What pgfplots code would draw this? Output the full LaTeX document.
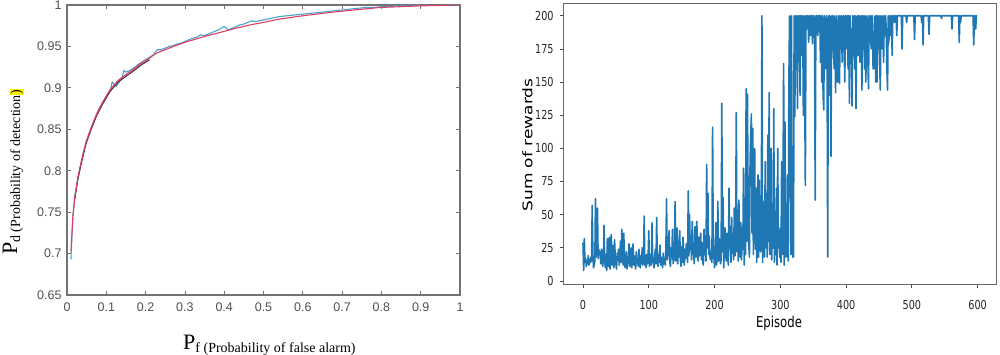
\documentclass[border=0pt]{standalone}
\usepackage{pgfplots}
\pgfplotsset{compat=1.18}
\usepackage{fontspec}
\usepackage{graphicx}
\setmainfont{Liberation Serif}
\newfontfamily\lsans{Liberation Sans}
\newfontfamily\mpl[FakeStretch=0.78]{DejaVu Sans}
\newfontfamily\mplv{DejaVu Sans}
\definecolor{mgray}{RGB}{115,115,115}
\definecolor{mtick}{RGB}{80,80,80}
\definecolor{cblue}{RGB}{75,160,205}
\definecolor{cred}{RGB}{222,62,95}
\definecolor{cdark}{RGB}{75,45,65}
\definecolor{mplblue}{RGB}{31,119,180}
\newcommand{\hlbox}[1]{{\setlength{\fboxsep}{0.6pt}\colorbox{yellow}{#1}}}
\begin{document}
\begin{tikzpicture}[x=1pt,y=1pt]
\useasboundingbox (0,0) rectangle (1000,354);
% ---------------- left panel ----------------
\begin{axis}[
  at={(67pt,59pt)}, anchor=south west,
  scale only axis, width=393pt, height=290pt,
  xmin=0, xmax=1, ymin=0.65, ymax=1,
  xtick={0,0.1,0.2,0.3,0.4,0.5,0.6,0.7,0.8,0.9,1},
  xticklabels={0,0.1,0.2,0.3,0.4,0.5,0.6,0.7,0.8,0.9,1},
  ytick={0.65,0.7,0.75,0.8,0.85,0.9,0.95,1},
  yticklabels={0.65,0.7,0.75,0.8,0.85,0.9,0.95,1},
  tick align=inside, tick pos=both, major tick length=4pt,
  axis line style={mgray, line width=1.2pt},
  every tick/.style={mgray, line width=0.8pt},
  /pgf/number format/assume math mode=true,
  tick label style={font=\lsans\fontsize{12.5}{14}\selectfont, text=mtick},
  xticklabel style={anchor=center, yshift=-11.7pt},
  yticklabel style={anchor=east, inner sep=0pt, xshift=-5.3pt},
  xlabel={{\fontsize{22}{24}\selectfont P}{\fontsize{14}{16}\selectfont\raisebox{-3pt}{f (Probability of false alarm)}}},
  xlabel style={at={(axis description cs:0.2952,-0.1862)}, anchor=base west, inner sep=0pt},
  ylabel={{\fontsize{22}{24}\selectfont P}{\fontsize{14}{16}\selectfont\raisebox{-3pt}{d (Probability of detection\hlbox{)}}}},
  ylabel style={at={(axis description cs:-0.1272,0.138)}, rotate=0, anchor=base west, inner sep=0pt},
]
\addplot[cblue, line width=1.1pt] coordinates {
(0.010,0.693)(0.015,0.745)(0.02,0.770)(0.03,0.797)(0.04,0.819)(0.05,0.836)
(0.06,0.850)(0.07,0.862)(0.08,0.873)(0.09,0.882)(0.10,0.890)(0.11,0.897)
(0.115,0.907)(0.12,0.904)(0.125,0.902)(0.13,0.905)(0.14,0.912)(0.145,0.921)
(0.15,0.919)(0.16,0.921)(0.17,0.924)(0.18,0.928)(0.19,0.931)(0.20,0.934)
(0.21,0.937)(0.22,0.940)(0.23,0.946)(0.24,0.946)(0.25,0.948)(0.26,0.950)
(0.27,0.951)(0.28,0.953)(0.29,0.954)(0.30,0.956)(0.31,0.958)(0.32,0.960)
(0.33,0.961)(0.34,0.964)(0.35,0.963)(0.36,0.965)(0.37,0.967)(0.38,0.969)
(0.39,0.971)(0.40,0.974)(0.41,0.970)(0.42,0.972)(0.43,0.974)(0.44,0.976)
(0.45,0.977)(0.46,0.979)(0.47,0.981)(0.48,0.980)(0.49,0.981)(0.50,0.982)
(0.52,0.984)(0.54,0.986)(0.56,0.987)(0.58,0.988)(0.60,0.989)(0.62,0.990)
(0.64,0.991)(0.66,0.992)(0.68,0.993)(0.70,0.994)(0.72,0.995)(0.74,0.996)
(0.76,0.997)(0.78,0.997)(0.80,0.998)(0.82,0.998)(0.84,0.999)(0.86,0.999)
(0.88,0.999)(0.90,1.000)(0.95,1.000)(1.00,1.000)};
\addplot[cdark, line width=1.1pt] coordinates {
(0.02,0.766)(0.027,0.788)(0.035,0.806)(0.048,0.832)(0.06,0.848)(0.075,0.866)
(0.09,0.880)(0.11,0.896)(0.13,0.907)(0.15,0.914)(0.168,0.920)(0.19,0.928)
(0.21,0.934)};
\addplot[cred, line width=1.1pt] coordinates {
(0.01,0.703)(0.015,0.745)(0.02,0.768)(0.027,0.790)(0.035,0.808)(0.048,0.834)
(0.06,0.850)(0.075,0.868)(0.09,0.882)(0.11,0.898)(0.13,0.909)(0.15,0.916)
(0.168,0.922)(0.19,0.930)(0.21,0.936)(0.228,0.942)(0.26,0.948)(0.30,0.955)
(0.35,0.962)(0.39,0.967)(0.43,0.972)(0.466,0.976)(0.50,0.979)(0.54,0.983)
(0.60,0.987)(0.67,0.991)(0.73,0.994)(0.796,0.997)(0.85,0.998)(0.90,0.999)
(0.95,0.9995)(1.0,1.0)};
\end{axis}
% ---------------- right panel ----------------
\begin{axis}[
  at={(563.3pt,69.5pt)}, anchor=south west,
  scale only axis, width=433.4pt, height=281.5pt,
  xmin=-29.95, xmax=628.95, ymin=-2.65, ymax=209.65,
  xtick={0,100,200,300,400,500,600},
  ytick={0,25,50,75,100,125,150,175,200},
  tick align=outside, tick pos=left, major tick length=3.5pt,
  axis line style={black!60, line width=1pt},
  every tick/.style={black!70, line width=0.8pt},
  /pgf/number format/assume math mode=true,
  tick label style={font=\mpl\fontsize{12.4}{14}\selectfont, text=black!85},
  xticklabel style={anchor=center, yshift=-16.5pt},
  yticklabel style={anchor=east, inner sep=0pt, xshift=-6pt},
  xlabel={{\mpl\fontsize{15}{18}\selectfont Episode}},
  xlabel style={at={(axis description cs:0.4977,-0.1545)}, anchor=base, inner sep=0pt},
  ylabel={{\mplv\fontsize{17}{20}\selectfont\scalebox{1}[0.78]{Sum of rewards}}},
  ylabel style={at={(axis description cs:-0.0826,0.4955)}, anchor=center, inner sep=0pt},
]
\addplot[mplblue, line width=1.6pt, line join=round] table[header=false, row sep=\\, x expr=\coordindex, y index=0] {
29\\ 8\\ 32\\ 14\\ 17\\ 11\\ 15\\ 13\\ 19\\ 12\\ 16\\ 14\\ 18\\ 15\\ 57\\ 20\\ 10\\ 12\\ 15\\ 62\\
18\\ 26\\ 55\\ 17\\ 24\\ 20\\ 22\\ 13\\ 24\\ 16\\ 11\\ 19\\ 42\\ 14\\ 10\\ 20\\ 8\\ 32\\ 14\\ 11\\
33\\ 9\\ 19\\ 35\\ 12\\ 27\\ 15\\ 10\\ 31\\ 18\\ 13\\ 9\\ 21\\ 16\\ 24\\ 12\\ 18\\ 30\\ 14\\ 39\\
20\\ 12\\ 36\\ 16\\ 10\\ 14\\ 22\\ 9\\ 18\\ 13\\ 28\\ 11\\ 17\\ 25\\ 10\\ 16\\ 28\\ 12\\ 19\\ 14\\
9\\ 22\\ 13\\ 17\\ 11\\ 24\\ 14\\ 10\\ 19\\ 13\\ 25\\ 12\\ 16\\ 49\\ 12\\ 14\\ 10\\ 20\\ 13\\ 18\\
38\\ 11\\ 15\\ 20\\ 12\\ 44\\ 14\\ 17\\ 10\\ 19\\ 24\\ 13\\ 48\\ 16\\ 11\\ 20\\ 14\\ 27\\ 12\\ 18\\
15\\ 10\\ 21\\ 13\\ 17\\ 12\\ 24\\ 62\\ 16\\ 20\\ 30\\ 38\\ 14\\ 11\\ 25\\ 18\\ 39\\ 13\\ 21\\ 16\\
60\\ 15\\ 22\\ 40\\ 13\\ 30\\ 18\\ 38\\ 16\\ 11\\ 26\\ 14\\ 33\\ 20\\ 12\\ 24\\ 17\\ 28\\ 22\\ 14\\
68\\ 19\\ 50\\ 24\\ 31\\ 16\\ 45\\ 20\\ 26\\ 13\\ 41\\ 22\\ 18\\ 45\\ 27\\ 15\\ 33\\ 19\\ 30\\ 36\\
16\\ 29\\ 14\\ 12\\ 39\\ 20\\ 28\\ 15\\ 88\\ 25\\ 66\\ 20\\ 34\\ 18\\ 16\\ 22\\ 14\\ 116\\ 25\\ 18\\
10\\ 24\\ 44\\ 12\\ 18\\ 60\\ 15\\ 32\\ 28\\ 13\\ 16\\ 134\\ 22\\ 63\\ 10\\ 28\\ 40\\ 19\\ 15\\ 36\\
18\\ 12\\ 70\\ 25\\ 38\\ 14\\ 48\\ 21\\ 30\\ 16\\ 55\\ 19\\ 28\\ 127\\ 22\\ 40\\ 15\\ 61\\ 26\\ 18\\
44\\ 16\\ 30\\ 24\\ 85\\ 12\\ 34\\ 20\\ 145\\ 30\\ 141\\ 60\\ 28\\ 18\\ 90\\ 110\\ 126\\ 36\\ 115\\ 20\\
86\\ 100\\ 24\\ 70\\ 14\\ 52\\ 80\\ 18\\ 76\\ 30\\ 22\\ 28\\ 200\\ 14\\ 60\\ 40\\ 18\\ 90\\ 25\\ 55\\
18\\ 110\\ 30\\ 142\\ 20\\ 61\\ 100\\ 16\\ 50\\ 25\\ 130\\ 14\\ 41\\ 20\\ 70\\ 12\\ 100\\ 25\\ 33\\ 18\\
40\\ 14\\ 90\\ 20\\ 60\\ 164\\ 12\\ 120\\ 30\\ 18\\ 31\\ 80\\ 15\\ 150\\ 200\\ 109\\ 20\\ 200\\ 45\\ 18\\
18\\ 200\\ 124\\ 200\\ 160\\ 200\\ 130\\ 200\\ 180\\ 200\\ 140\\ 200\\ 200\\ 170\\ 200\\ 125\\ 200\\ 150\\ 72\\ 200\\
190\\ 200\\ 200\\ 180\\ 200\\ 200\\ 185\\ 200\\ 200\\ 179\\ 200\\ 200\\ 190\\ 61\\ 200\\ 200\\ 200\\ 185\\ 200\\ 200\\
200\\ 165\\ 200\\ 150\\ 200\\ 140\\ 129\\ 200\\ 175\\ 160\\ 200\\ 185\\ 18\\ 200\\ 140\\ 200\\ 194\\ 94\\ 200\\ 200\\
200\\ 170\\ 160\\ 200\\ 142\\ 185\\ 200\\ 150\\ 170\\ 200\\ 149\\ 200\\ 175\\ 200\\ 165\\ 190\\ 200\\ 180\\ 150\\ 200\\
200\\ 175\\ 200\\ 160\\ 200\\ 134\\ 200\\ 180\\ 190\\ 132\\ 200\\ 170\\ 200\\ 160\\ 200\\ 130\\ 185\\ 200\\ 170\\ 200\\
200\\ 165\\ 185\\ 200\\ 144\\ 200\\ 175\\ 200\\ 160\\ 200\\ 150\\ 190\\ 200\\ 170\\ 145\\ 200\\ 180\\ 200\\ 175\\ 200\\
200\\ 160\\ 160\\ 185\\ 200\\ 150\\ 200\\ 150\\ 200\\ 175\\ 200\\ 165\\ 144\\ 200\\ 190\\ 175\\ 200\\ 165\\ 200\\ 185\\
200\\ 190\\ 160\\ 144\\ 200\\ 180\\ 200\\ 200\\ 185\\ 200\\ 170\\ 200\\ 200\\ 200\\ 195\\ 200\\ 200\\ 185\\ 200\\ 200\\
200\\ 200\\ 200\\ 200\\ 200\\ 175\\ 200\\ 200\\ 200\\ 200\\ 200\\ 200\\ 195\\ 200\\ 200\\ 200\\ 200\\ 200\\ 200\\ 200\\
200\\ 200\\ 200\\ 200\\ 182\\ 200\\ 200\\ 200\\ 200\\ 200\\ 200\\ 200\\ 200\\ 200\\ 200\\ 195\\ 200\\ 178\\ 200\\ 200\\
200\\ 200\\ 200\\ 200\\ 200\\ 200\\ 186\\ 200\\ 200\\ 200\\ 200\\ 200\\ 200\\ 200\\ 200\\ 200\\ 200\\ 200\\ 200\\ 200\\
200\\ 200\\ 200\\ 200\\ 200\\ 198\\ 200\\ 200\\ 200\\ 200\\ 200\\ 200\\ 200\\ 200\\ 200\\ 200\\ 200\\ 200\\ 200\\ 200\\
200\\ 190\\ 200\\ 200\\ 200\\ 200\\ 200\\ 200\\ 200\\ 200\\ 200\\ 200\\ 180\\ 200\\ 195\\ 200\\ 200\\ 200\\ 200\\ 200\\
200\\ 200\\ 200\\ 200\\ 200\\ 200\\ 200\\ 200\\ 200\\ 200\\ 200\\ 200\\ 200\\ 200\\ 178\\ 200\\ 200\\ 190\\ 200\\ 200\\
};
\end{axis}
\end{tikzpicture}
\end{document}
